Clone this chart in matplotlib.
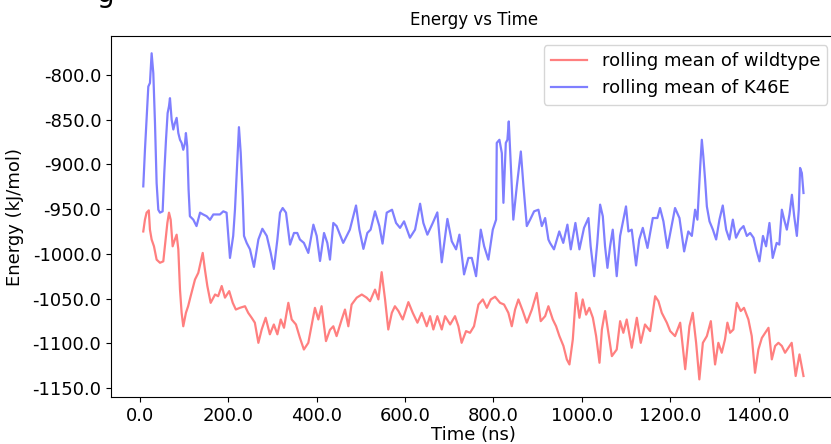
import numpy as np
import matplotlib
matplotlib.use("Agg")
import matplotlib.pyplot as plt
from matplotlib.ticker import FormatStrFormatter

# rolling mean of the energy (time in ns, energy in kJ/mol)
wt_time = [7.5, 11.3, 15, 20, 22.6, 26.4, 31.7, 37.7, 45.3, 52.8, 58, 62, 65.7, 69.5, 74, 79, 83,
           86.8, 90.6, 94.3, 98, 104, 109, 114.7, 124.5, 132, 142, 147, 152.5, 160, 170, 177, 185,
           192.4, 202, 210, 217, 226, 237.7, 245, 252.8, 260, 268, 275.5, 284.5, 294, 303, 311,
           318.6, 326, 335.8, 343.4, 353, 362, 371, 381, 391, 396, 403.7, 411, 421, 430, 437.6,
           445, 456.6, 464, 471.6, 479, 490.6, 502, 513, 520.7, 532, 539.6, 547, 554.7, 562, 570,
           577, 585, 594.7, 607.5, 617.4, 628, 637.7, 649, 656.6, 664, 673, 683, 690.5, 702, 713,
           720.7, 728, 738, 747, 756, 766, 776, 785, 794, 803.7, 815, 824, 833.8, 841.5, 849,
           856.5, 866.5, 875.5, 887, 898, 907, 917, 924.4, 934.3, 941.8, 949.3, 958.4, 966, 972,
           979.6, 987, 994.6, 1002, 1009.7, 1017, 1025, 1032.4, 1040, 1045.4, 1052.7, 1060, 1068,
           1079, 1086.7, 1094, 1101.6, 1113, 1124.5, 1133.4, 1143, 1154.6, 1166, 1173.4, 1181,
           1192.4, 1200, 1211, 1222.6, 1234, 1243.6, 1251, 1258.7, 1266, 1274, 1283, 1292, 1301.6,
           1309, 1316.7, 1324, 1329.5, 1335.5, 1343, 1350.7, 1359.7, 1367, 1377, 1384.6, 1392,
           1399.6, 1407.5, 1415, 1422.5, 1430, 1437.6, 1445, 1452.7, 1460, 1467.7, 1475, 1484,
           1492.6, 1501.7]
wt_energy = [-975, -961.8, -954, -951.4, -973, -984, -991.6, -1006.5, -1010, -1008.4, -984, -965.5,
             -954, -961.8, -991.6, -984, -978.6, -995, -1040, -1066, -1081, -1066, -1058.6,
             -1047.4, -1028.8, -1021.3, -999, -1017.6, -1036, -1054.8, -1045.5, -1047.4, -1036,
             -1049, -1041.7, -1054.8, -1062.3, -1060.4, -1058.6, -1066, -1071.5, -1077, -1099.5,
             -1084.6, -1071.5, -1090, -1079, -1090, -1073.4, -1082.7, -1054.8, -1073.4, -1079,
             -1093.9, -1107, -1099.5, -1073.4, -1060.4, -1073.4, -1058.6, -1097.6, -1085, -1081,
             -1092, -1073.4, -1062.3, -1081, -1056.7, -1049, -1045.5, -1049, -1053, -1040, -1051,
             -1020.5, -1051, -1084.6, -1066, -1058.6, -1064, -1073.4, -1054, -1066, -1077, -1066,
             -1081, -1069.7, -1084.6, -1069.7, -1084.6, -1069.7, -1079, -1069.7, -1081, -1099.5,
             -1086.4, -1088.3, -1081, -1056.7, -1051, -1060.4, -1051, -1048, -1054.8, -1056.7,
             -1066, -1081, -1062.3, -1051, -1064, -1077, -1062.3, -1043.7, -1075.3, -1069.7,
             -1058.6, -1073.4, -1081, -1092, -1103, -1118, -1123.7, -1095.8, -1043.7, -1071.5,
             -1051, -1068, -1060.4, -1071.5, -1092, -1121.8, -1084.6, -1064, -1088.3, -1114.4,
             -1107, -1075.3, -1088.3, -1073.4, -1105, -1071.5, -1099.5, -1079, -1086.4, -1047.4,
             -1053, -1066, -1077, -1086.4, -1092, -1077, -1129, -1081, -1066, -1099.5, -1140.4,
             -1099.5, -1092, -1075.3, -1123.7, -1099.5, -1110.6, -1095.8, -1077, -1088.3, -1084.6,
             -1054.8, -1064, -1060.4, -1073.4, -1092, -1133, -1107, -1094, -1088.3, -1082.7, -1118,
             -1103, -1099.5, -1103, -1110.6, -1105, -1099.5, -1136.6, -1112.5, -1136.6]

mut_time = [7.5, 11.3, 15, 18.9, 22.6, 26.4, 30.2, 34, 37.7, 41.5, 45.3, 51.3, 55, 58.9, 62.6,
            65.7, 67.9, 71.7, 75.5, 79, 83, 86.8, 90.6, 94.3, 98, 102, 104, 107, 110, 113, 120.7,
            128, 136, 143, 151, 158.5, 166, 181, 188.6, 196, 203.7, 211, 215, 219, 224, 228, 232.4,
            235.5, 241.5, 249, 258, 268, 277, 287, 296, 303, 311, 317, 323, 330.5, 339.6, 348.6,
            356, 362, 371, 381, 392.5, 400, 407.5, 416.6, 424, 430, 437.6, 445, 460, 475, 489,
            496.6, 505.7, 514.6, 522, 532, 541.8, 549, 558.5, 570.5, 579.6, 588.6, 597.7, 611,
            622.6, 634, 641.4, 650.5, 662.7, 673, 683, 695.8, 705.7, 715.4, 723, 733.5, 743.3, 751,
            760.7, 771.3, 779, 788.5, 798.5, 806, 807.5, 813.5, 819, 822.6, 828, 831.6, 834.7,
            837.7, 841.6, 845, 852.8, 862, 868, 875.5, 883, 892, 901.8, 909.5, 917, 924.4, 928,
            937, 949, 958, 967.4, 975, 985.5, 994.6, 1005, 1015, 1020, 1028, 1035, 1041.4, 1047.5,
            1052.6, 1058, 1064, 1070, 1079, 1086.7, 1094, 1100, 1105.5, 1113, 1122.8, 1130, 1138,
            1148.6, 1160.7, 1171, 1177, 1184.7, 1193.7, 1201.5, 1211, 1221, 1231.6, 1241, 1249,
            1256.4, 1261.6, 1268, 1271.6, 1275, 1279, 1283, 1289, 1296.7, 1304, 1311.5, 1319,
            1326.7, 1334, 1341.8, 1349, 1358, 1366, 1373.5, 1381, 1388.6, 1394.6, 1402, 1410, 1417,
            1424.7, 1432, 1441, 1447, 1452.7, 1458, 1464, 1470, 1475.5, 1480.7, 1486.7, 1491, 1494,
            1498, 1501.7]
mut_energy = [-924.6, -883.7, -850, -813, -809, -775.8, -798, -854, -921, -950.7, -954, -952.5,
              -909.7, -872.5, -842.7, -835, -826, -850, -861, -854, -848, -865, -872.5, -876,
              -883.7, -876, -865, -880, -928, -958, -961.8, -969, -954, -956, -958, -962, -956,
              -956, -952.5, -954, -1004.6, -980, -950.7, -909.7, -858.4, -887, -935.8, -980, -987.8,
              -995, -1014.6, -984, -972, -980, -999, -1016.9, -984, -954, -948.8, -954, -989.7,
              -976.7, -976.7, -984, -987.8, -999, -967.4, -980, -1008, -976.7, -987.8, -1006.5,
              -965.5, -969, -987.8, -973, -946, -973, -994.5, -976.7, -973, -952.5, -969, -988.6,
              -954, -950.7, -965.5, -971, -963.7, -982, -973, -944, -965.5, -978.6, -965.5, -953.7,
              -1009.5, -961, -986, -995, -978.6, -1023, -1004.6, -1004.6, -1025, -973, -991.6,
              -1006.5, -973, -961.8, -876, -872.5, -887.4, -943, -876, -872.5, -852, -883.7,
              -924.7, -961.8, -924.7, -885.6, -924.7, -969, -961.8, -952.5, -950.7, -969, -960,
              -984, -987.8, -995, -975, -987.8, -967.4, -995, -965.5, -995, -971, -960, -991.6,
              -1025, -987.8, -945, -958, -991.6, -1015.7, -991.6, -973, -1025, -980, -961.8, -947,
              -975, -973, -1013, -984, -971, -993.4, -960, -960, -948.8, -963.7, -993.4, -973,
              -948.8, -960, -997.3, -975, -980, -950.7, -961.8, -902, -872.5, -891, -917, -947,
              -963.7, -973, -984, -961.8, -946, -973, -984, -961.8, -982, -973, -969, -980, -976.7,
              -982, -995, -1008.4, -980, -991.6, -965.5, -1004.6, -987.8, -989.7, -950.7, -961.8,
              -973, -956, -934, -958, -980, -950.7, -904, -909.7, -932]

x_ticks = [0, 200, 400, 600, 800, 1000, 1200, 1400]
y_ticks = [-1150, -1100, -1050, -1000, -950, -900, -850, -800]

plt.rcParams['font.family'] = 'DejaVu Sans'
plt.rcParams['font.size'] = 13

fig = plt.figure(figsize=(8.31, 4.44), dpi=100)
ax = fig.add_axes([0.1336, 0.1052, 0.8728, 0.8137])

ax.plot(wt_time, wt_energy, color='red', alpha=0.5, lw=1.6, label='rolling mean of wildtype')
ax.plot(mut_time, mut_energy, color='blue', alpha=0.5, lw=1.6, label='rolling mean of K46E')

ax.set_xlim(-65.5, 1576)
ax.set_ylim(-1160.4, -756.5)
ax.set_xticks(x_ticks)
ax.set_yticks(y_ticks)
ax.xaxis.set_major_formatter(FormatStrFormatter('%.1f'))
ax.yaxis.set_major_formatter(FormatStrFormatter('%.1f'))

ax.set_title('Energy vs Time', fontsize=12, pad=8)
ax.set_xlabel('Time (ns)', labelpad=1)
ax.set_ylabel('Energy (kJ/mol)', labelpad=6)
ax.legend(loc='upper right')

# clipped leftover of a heading above the figure
fig.text(0.116, 0.996, 'g', fontsize=20, va='baseline')

fig.savefig('out.png', dpi=100)
